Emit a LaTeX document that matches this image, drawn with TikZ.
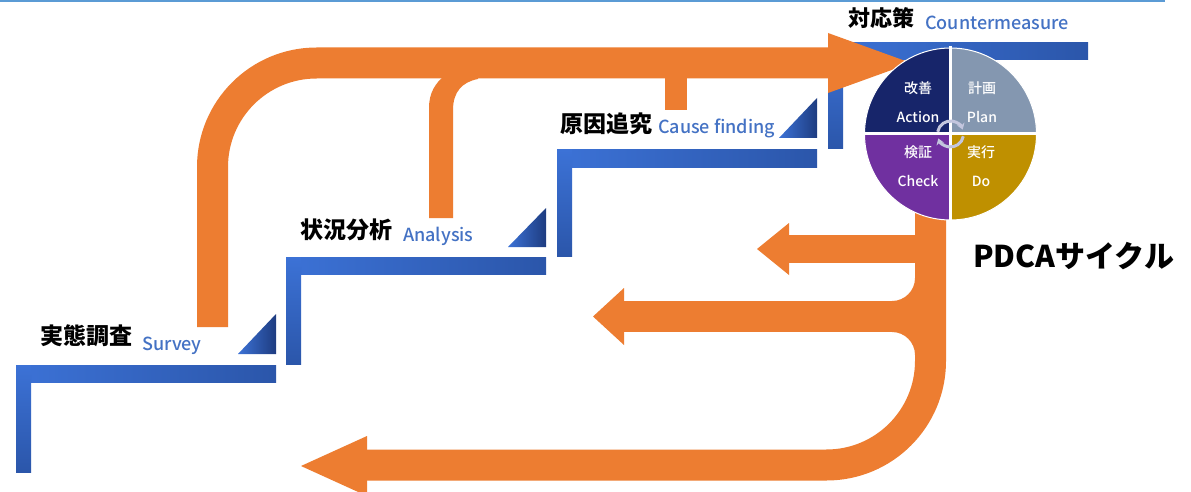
\documentclass[tikz,border=0pt]{standalone}
\usepackage{fontspec}
\setmainfont{Noto Sans CJK JP}
\newfontfamily\medfont{Noto Sans CJK JP}[UprightFont={* Medium}]
\usetikzlibrary{arrows.meta}
\definecolor{org}{HTML}{ED7D31}
\definecolor{bla}{HTML}{3C72D6}
\definecolor{blb}{HTML}{2B56AA}
\definecolor{blc}{HTML}{1E3C80}
\definecolor{lbl}{HTML}{4472C4}
\definecolor{topline}{HTML}{5B9BD5}
\definecolor{qA}{HTML}{17256A}
\definecolor{qP}{HTML}{8497B0}
\definecolor{qC}{HTML}{7030A0}
\definecolor{qD}{HTML}{BF9000}
\definecolor{cyc}{HTML}{C3C6DE}
\begin{document}
\begin{tikzpicture}[x=1pt,y=-1pt,
  jpl/.style={font=\fontsize{23}{23}\selectfont\bfseries, anchor=base west, inner sep=0pt},
  enl/.style={font=\fontsize{18}{18}\selectfont\medfont, text=lbl, anchor=base west, inner sep=0pt},
  qt/.style={font=\fontsize{14}{14}\selectfont\medfont, text=white, inner sep=0pt},
  hbar/.style={left color=bla, right color=blb},
  vbar/.style={top color=bla, bottom color=blb},
  tri/.style={left color=bla, right color=blc},
  orangeline/.style={draw=org, line width=31pt, rounded corners=104pt},
]
\useasboundingbox (0,0) rectangle (1191,492);
\fill[white] (0,0) rectangle (1191,492);
\draw[topline, line width=2pt] (0,1) -- (1165,1);

% blue steps
\shade[hbar] (16,365) rectangle (276,382);
\shade[vbar] (16,365) rectangle (31,472);
\shade[tri] (238,354) -- (276,314) -- (276,354) -- cycle;
\shade[hbar] (286,257) rectangle (546,274);
\shade[vbar] (286,257) rectangle (301,364);
\shade[tri] (508,247) -- (546,208) -- (546,247) -- cycle;
\shade[hbar] (557,150) rectangle (817,167);
\shade[vbar] (557,150) rectangle (572,256);
\shade[tri] (779,138) -- (817,98) -- (817,138) -- cycle;
\shade[hbar] (828,43) rectangle (1088,60);
\shade[vbar] (828,43) rectangle (843,149);

% orange upper flow
\draw[orangeline] (212.5,327) -- (212.5,63) -- (829,63);
\fill[org] (828,33) -- (911,63) -- (828,93) -- cycle;
\fill[org] (429,218) -- (429,108) .. controls (429,92) and (436,83) .. (444,76)
  -- (478,76) -- (478,79) .. controls (462,82) and (453,92) .. (453,110) -- (453,218) -- cycle;
\fill[org] (665,70) rectangle (687,110);

% orange lower flow
\draw[orangeline] (930.5,200) -- (930.5,465) -- (366,465);
\fill[org] (367,436) -- (301,466) -- (367,496) -- cycle;
\fill[org] (788,235) rectangle (920,263);
\fill[org] (789,223) -- (757,249) -- (789,275) -- cycle;
\fill[org] (623,301) rectangle (920,332);
\fill[org] (624,288) -- (593,316.5) -- (624,345) -- cycle;
\fill[org] (892,301) .. controls (904.7,301) and (915,290.7) .. (915,278) -- (918,278) -- (918,301) -- cycle;
\fill[org] (892,332) .. controls (904.7,332) and (915,342.3) .. (915,355) -- (918,355) -- (918,332) -- cycle;

% PDCA circle
\coordinate (c) at (950.5,134);
\fill[qA] (c) -- ++(-86,0) arc[start angle=180, end angle=270, radius=86] -- cycle;
\fill[qP] (c) -- ++(0,-86) arc[start angle=270, end angle=360, radius=86] -- cycle;
\fill[qD] (c) -- ++(86,0) arc[start angle=0, end angle=90, radius=86] -- cycle;
\fill[qC] (c) -- ++(0,86) arc[start angle=90, end angle=180, radius=86] -- cycle;
\draw[white, line width=1pt] (c) circle[radius=86];
\draw[white, line width=3pt] (950.5,46) -- (950.5,222);
\draw[white, line width=3pt] (863,134) -- (1038,134);
\draw[cyc, line width=3pt, -{Stealth[length=6pt,width=8pt]}] (c) ++(-170:13) arc[start angle=-170, end angle=-20, radius=13];
\draw[cyc, line width=3pt, -{Stealth[length=6pt,width=8pt]}] (c) ++(10:13) arc[start angle=10, end angle=160, radius=13];

\node[qt] (a1) at (918,88) {改善};
\node[qt] (a2) at (918,117) {Action};
\node[qt] (p1) at (982,88) {計画};
\node[qt] (p2) at (982,117) {Plan};
\node[qt] (c1) at (918,152) {検証};
\node[qt] (c2) at (918,181) {Check};
\node[qt] (d1) at (981,152) {実行};
\node[qt] (d2) at (981,181) {Do};

% labels
\node[jpl] (svj) at (40,344) {実態調査};
\node[enl] (sve) at (142,350) {Survey};
\node[jpl] (anj) at (300,238) {状況分析};
\node[enl] (ane) at (403,241) {Analysis};
\node[jpl] (caj) at (560,132) {原因追究};
\node[enl] (cae) at (658,134) {Cause finding};
\node[jpl, font=\fontsize{22}{22}\selectfont\bfseries] (coj) at (848,27) {対応策};
\node[enl] (coe) at (925,30) {Countermeasure};
\node[font=\fontsize{30}{30}\selectfont\bfseries, anchor=base west, inner sep=0pt] (pdca) at (973,267) {PDCAサイクル};
\end{tikzpicture}
\end{document}
